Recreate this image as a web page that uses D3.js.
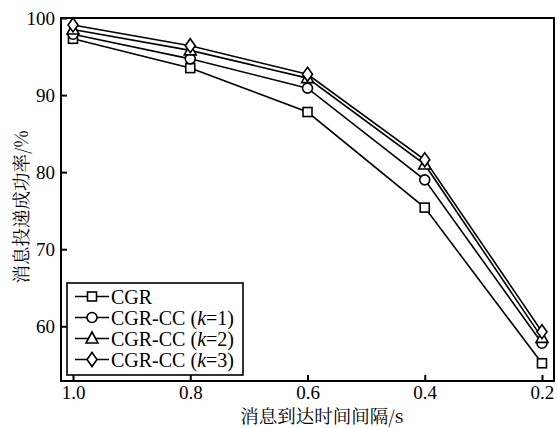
<!DOCTYPE html>
<html>
<head>
<meta charset="utf-8">
<script src="https://cdn.jsdelivr.net/npm/d3@7"></script>
<style>
body { margin: 0; background: #fff; }
</style>
</head>
<body>
<div id="chart"></div>
<script>
"use strict";

// data
var intervals = [1.0, 0.8, 0.6, 0.4, 0.2];
var seriesNames = ["CGR", "CGR-CC (k=1)", "CGR-CC (k=2)", "CGR-CC (k=3)"];
var cgr = [97.3, 93.5, 87.8, 75.4, 55.2];
var cgrK1 = [97.9, 94.7, 90.9, 79.0, 57.8];
var cgrK2 = [98.5, 95.8, 92.2, 81.0, 58.5];
var cgrK3 = [99.1, 96.4, 92.7, 81.6, 59.3];
var markers = ["square", "circle", "triangle", "diamond"];
var xTicks = [1.0, 0.8, 0.6, 0.4, 0.2];
var yTicks = [60, 70, 80, 90, 100];

var serif = "Liberation Serif";
var cjk = "Noto Serif CJK SC";
var width = 557, height = 428;
var margin = { left: 61, right: 3, top: 18, bottom: 47 };

var svg = d3.select("#chart").append("svg")
    .attr("width", width).attr("height", height)
    .attr("font-family", serif);

var x = d3.scaleLinear().domain([1.0205, 0.1795]).range([margin.left, width - margin.right]);
var y = d3.scaleLinear().domain([52.9, 100]).range([height - margin.bottom, margin.top]);

var allSeries = [cgr, cgrK1, cgrK2, cgrK3];

//frame
svg.append("rect")
    .attr("x", margin.left).attr("y", margin.top)
    .attr("width", width - margin.left - margin.right)
    .attr("height", height - margin.top - margin.bottom)
    .style("fill", "none").style("stroke", "#000").style("stroke-width", 2);

//axes with inward ticks
var xAxis = svg.append("g").attr("transform", "translate(0," + (height - margin.bottom) + ")")
    .call(d3.axisBottom(x).tickValues(xTicks).tickFormat(d3.format(".1f")).tickSizeInner(-6).tickSizeOuter(0).tickPadding(5));
var yAxis = svg.append("g").attr("transform", "translate(" + margin.left + ",0)")
    .call(d3.axisLeft(y).tickValues(yTicks).tickSizeInner(-6).tickSizeOuter(0).tickPadding(6));

[xAxis, yAxis].forEach(function (a) {
    a.attr("font-family", serif).attr("font-size", 19);
    a.select(".domain").remove();
    a.selectAll("line").style("stroke", "#000").style("stroke-width", 2);
    a.selectAll("text").attr("fill", "#000");
});

//axis titles
svg.append("text")
    .attr("x", 322).attr("y", 423)
    .attr("text-anchor", "middle").attr("font-family", cjk).attr("font-size", 18.5)
    .text("消息到达时间间隔/s");

svg.append("text")
    .attr("transform", "translate(28,207) rotate(-90)")
    .attr("text-anchor", "middle").attr("font-family", cjk).attr("font-size", 18.5)
    .text("消息投递成功率/%");

function drawMarker(g, type, cx, cy) {
    if (type === "square") {
        g.append("rect").attr("x", cx - 4.5).attr("y", cy - 4.5).attr("width", 9).attr("height", 9);
    } else if (type === "circle") {
        g.append("circle").attr("cx", cx).attr("cy", cy).attr("r", 5);
    } else if (type === "triangle") {
        g.append("path").attr("d", "M" + cx + "," + (cy - 6.5) + "L" + (cx + 6) + "," + (cy + 4.5) + "L" + (cx - 6) + "," + (cy + 4.5) + "Z");
    } else {
        g.append("path").attr("d", "M" + cx + "," + (cy - 7) + "L" + (cx + 5) + "," + cy + "L" + cx + "," + (cy + 7) + "L" + (cx - 5) + "," + cy + "Z");
    }
}

var line = d3.line()
    .x(function (d, i) { return x(intervals[i]); })
    .y(function (d) { return y(d); });

allSeries.forEach(function (values) {
    svg.append("path").datum(values).attr("d", line)
        .style("fill", "none").style("stroke", "#000").style("stroke-width", 1.6);
});

allSeries.forEach(function (values, si) {
    var g = svg.append("g").style("fill", "#fff").style("stroke", "#000").style("stroke-width", 1.6);
    values.forEach(function (v, i) {
        drawMarker(g, markers[si], x(intervals[i]), y(v));
    });
});

//legend
var legend = svg.append("g");
legend.append("rect").attr("x", 67).attr("y", 283).attr("width", 176).attr("height", 92)
    .style("fill", "#fff").style("stroke", "#000").style("stroke-width", 1.6);

function legendText(tx, ty, str, italic) {
    var t = legend.append("text").attr("x", tx).attr("y", ty)
        .attr("font-family", serif).attr("font-size", 20)
        .attr("font-style", italic ? "italic" : "normal").text(str);
    return tx + t.node().getComputedTextLength();
}

seriesNames.forEach(function (name, i) {
    var ly = 296.5 + i * 21;
    legend.append("line").attr("x1", 75).attr("x2", 109).attr("y1", ly).attr("y2", ly)
        .style("stroke", "#000").style("stroke-width", 1.6);
    var mg = legend.append("g").style("fill", "#fff").style("stroke", "#000").style("stroke-width", 1.6);
    drawMarker(mg, markers[i], 92, ly);
    var m = name.match(/^(.*\()k(=.*)$/);
    if (!m) {
        legendText(111, ly + 7, name, false);
    } else {
        var nx = legendText(111, ly + 7, m[1], false);
        nx = legendText(nx, ly + 7, "k", true);
        legendText(nx, ly + 7, m[2], false);
    }
});
</script>
</body>
</html>
